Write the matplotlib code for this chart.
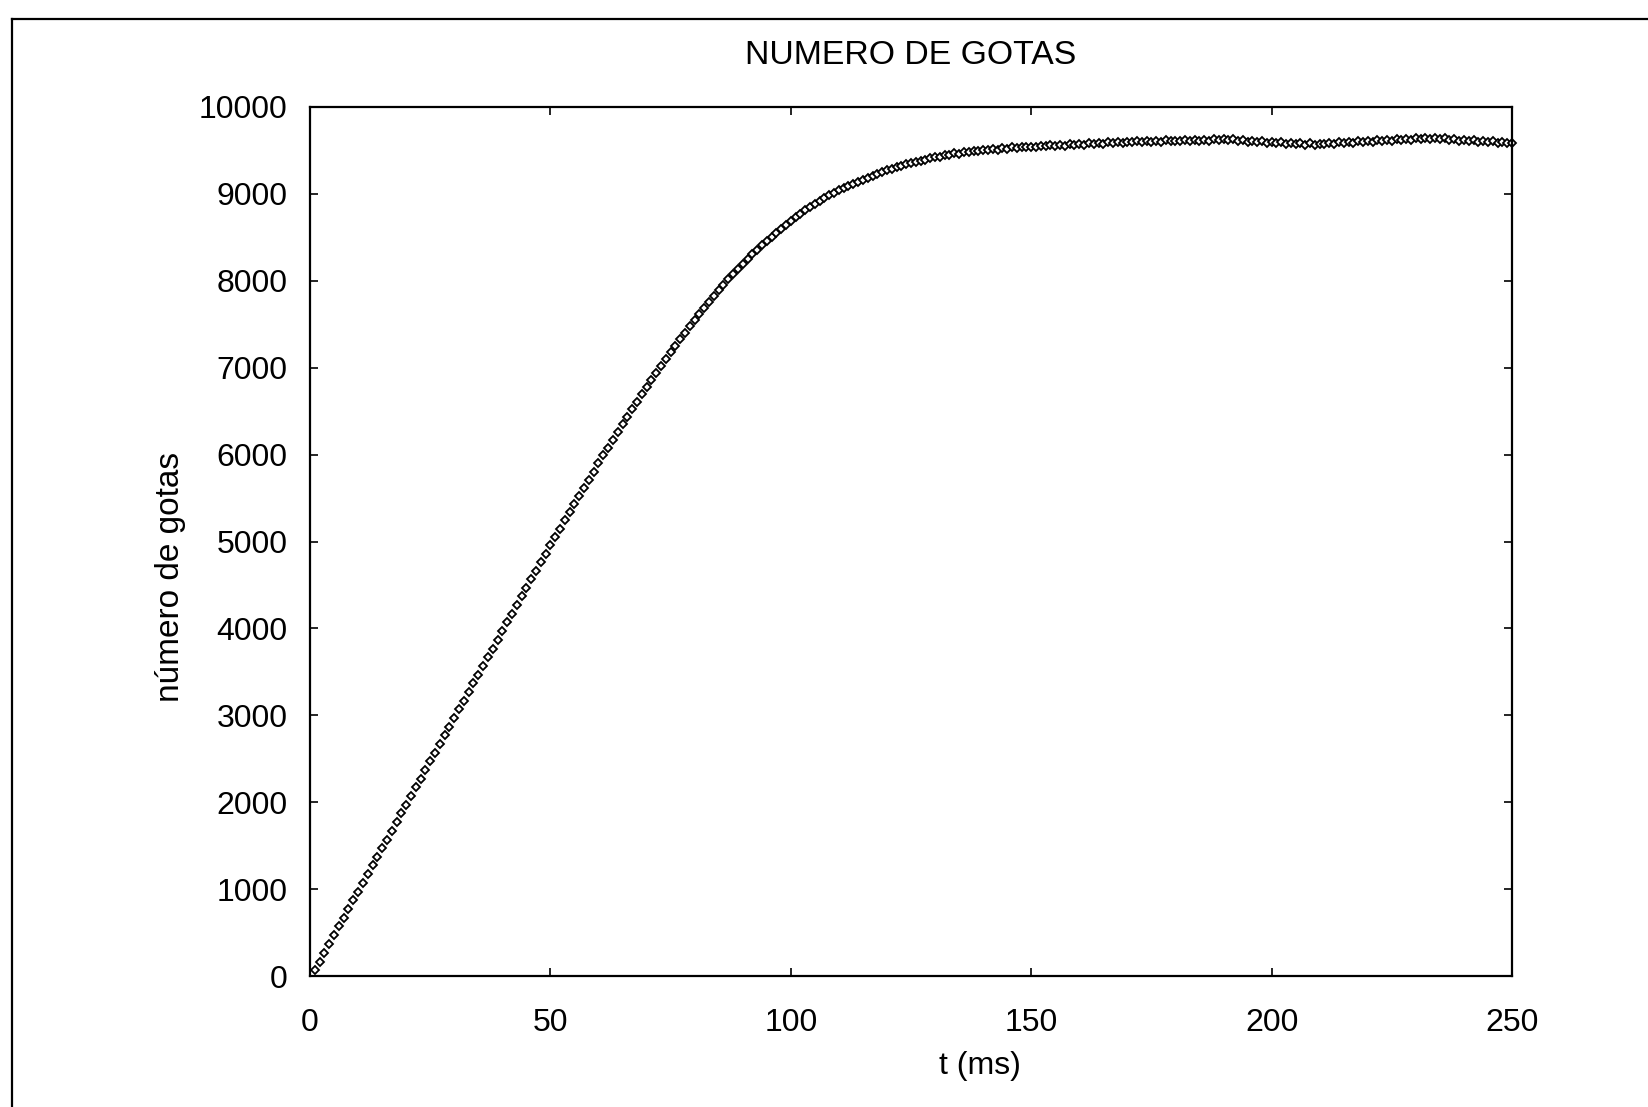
import matplotlib
matplotlib.use("Agg")
import matplotlib.pyplot as plt
from matplotlib.lines import Line2D
import numpy as np

plt.rcParams['font.family'] = ['Liberation Sans', 'DejaVu Sans']

title = "NUMERO DE GOTAS"
xlabel = "t (ms)"
ylabel = "número de gotas"
xticks = [0, 50, 100, 150, 200, 250]
yticks = [0, 1000, 2000, 3000, 4000, 5000, 6000, 7000, 8000, 9000, 10000]

t_ms = list(range(1, 251))
gotas = [
    70, 165, 270, 372, 468, 570, 672, 768, 870, 972,
    1068, 1170, 1272, 1368, 1470, 1570, 1668, 1772, 1870, 1968,
    2070, 2172, 2268, 2370, 2470, 2568, 2672, 2770, 2866, 2970,
    3070, 3168, 3270, 3372, 3468, 3570, 3670, 3766, 3870, 3970,
    4068, 4170, 4268, 4370, 4468, 4566, 4665, 4762, 4860, 4958,
    5052, 5148, 5242, 5338, 5432, 5525, 5620, 5712, 5805, 5898,
    5990, 6080, 6170, 6260, 6348, 6436, 6522, 6608, 6692, 6776,
    6858, 6940, 7020, 7100, 7178, 7255, 7330, 7405, 7478, 7550,
    7620, 7690, 7758, 7825, 7890, 7954, 8016, 8077, 8136, 8194,
    8250, 8305, 8358, 8410, 8460, 8508, 8555, 8600, 8644, 8686,
    8730, 8772, 8812, 8850, 8886, 8920, 8952, 8983, 9012, 9040,
    9067, 9093, 9118, 9142, 9165, 9187, 9208, 9229, 9250, 9270,
    9289, 9307, 9324, 9340, 9355, 9369, 9382, 9395, 9408, 9420,
    9428, 9445, 9448, 9465, 9462, 9480, 9478, 9495, 9490, 9508,
    9502, 9515, 9510, 9526, 9520, 9534, 9528, 9540, 9535, 9545,
    9538, 9552, 9546, 9558, 9550, 9565, 9556, 9570, 9562, 9575,
    9566, 9582, 9572, 9588, 9578, 9594, 9583, 9598, 9586, 9600,
    9592, 9606, 9595, 9612, 9598, 9610, 9600, 9615, 9604, 9612,
    9605, 9618, 9606, 9622, 9610, 9625, 9612, 9628, 9615, 9630,
    9618, 9628, 9610, 9620, 9602, 9612, 9595, 9605, 9588, 9598,
    9582, 9592, 9575, 9588, 9570, 9582, 9568, 9580, 9565, 9578,
    9570, 9585, 9575, 9592, 9580, 9598, 9588, 9605, 9595, 9610,
    9600, 9615, 9605, 9622, 9610, 9628, 9615, 9632, 9620, 9638,
    9628, 9645, 9632, 9648, 9630, 9640, 9618, 9632, 9610, 9625,
    9605, 9620, 9600, 9612, 9595, 9608, 9590, 9600, 9582, 9580,
]

W, H = 1649, 1107
fig = plt.figure(figsize=(W / 100, H / 100), dpi=100)
fig.patch.set_facecolor('white')

ax = fig.add_axes([310 / W, 1 - 976 / H, 1202 / W, 869 / H])
ax.plot(t_ms, gotas, linestyle='none', marker='D', markersize=4.0,
        markerfacecolor='white', markeredgecolor='black', markeredgewidth=1.3,
        clip_on=False)

ax.set_xlim(0, 250)
ax.set_ylim(0, 10000)
ax.set_xticks(xticks)
ax.set_yticks(yticks)
ax.set_xticklabels([str(v) for v in xticks])
ax.set_yticklabels([str(v) for v in yticks])
ax.tick_params(axis='both', which='major', direction='in', length=6, width=1.2,
               labelsize=23, top=True, right=True, colors='black')
ax.tick_params(axis='x', pad=23)
ax.tick_params(axis='y', pad=16)
for s in ax.spines.values():
    s.set_linewidth(1.6)
    s.set_color('black')

fig.text(911 / W, 1 - 55 / H, title, ha='center', va='center', fontsize=24.3)
fig.text(980 / W, 1 - 1066 / H, xlabel, ha='center', va='center', fontsize=23)
fig.text(171 / W, 1 - 577 / H, ylabel, ha='center', va='center', fontsize=24,
         rotation=90)

# outer frame (left and top edges visible)
fig.add_artist(Line2D([12 / W, 12 / W], [-0.01, 1 - 19 / H], color='black',
                      linewidth=1.6, transform=fig.transFigure))
fig.add_artist(Line2D([12 / W, 1.01], [1 - 19 / H, 1 - 19 / H], color='black',
                      linewidth=1.6, transform=fig.transFigure))

fig.savefig('out.png', dpi=100)
